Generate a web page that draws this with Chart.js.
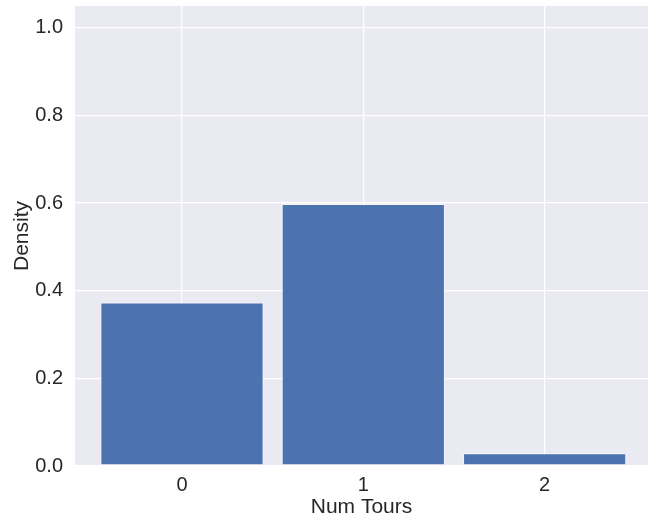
<!DOCTYPE html>
<html>
<head>
<meta charset="utf-8">
<script src="https://cdn.jsdelivr.net/npm/chart.js@4/dist/chart.umd.min.js"></script>
<style>
  html, body { margin: 0; padding: 0; background: #ffffff; overflow: hidden; }
  #wrap { width: 648px; height: 518px; }
</style>
</head>
<body>
<div id="wrap"><canvas id="c" width="648" height="518"></canvas></div>
<script>
// Number of tours per record and the share of records (density) for each count
const numTours = [0, 1, 2];
const density = [0.373, 0.598, 0.029];
const yTickValues = [0.0, 0.2, 0.4, 0.6, 0.8, 1.0];
const xTickValues = [0, 1, 2];

const TEXT = '#262626';
const FONT = "'Liberation Sans', Arial, sans-serif";

// Fill the plotting area with the seaborn-like grey before anything else is drawn
const plotBackground = {
  id: 'plotBackground',
  beforeDraw(chart) {
    const { ctx, chartArea: a } = chart;
    ctx.save();
    ctx.fillStyle = '#EAEAF2';
    ctx.fillRect(a.left, a.top, a.right - a.left, a.bottom - a.top);
    ctx.restore();
  }
};

new Chart(document.getElementById('c'), {
  type: 'bar',
  data: {
    datasets: [{
      label: 'Density',
      data: numTours.map((t, i) => ({ x: t, y: density[i] })),
      backgroundColor: '#4C72B0',
      borderColor: 'rgba(255,255,255,0.55)',
      borderWidth: 1,
      borderSkipped: false,
      categoryPercentage: 1.0,
      barPercentage: 0.9
    }]
  },
  options: {
    responsive: false,
    animation: false,
    layout: { padding: { top: 6, right: 0, bottom: 0, left: 0 } },
    plugins: {
      legend: { display: false },
      tooltip: { enabled: false }
    },
    scales: {
      x: {
        type: 'linear',
        offset: false,
        min: -0.59,
        max: 2.57,
        afterBuildTicks(scale) { scale.ticks = xTickValues.map(v => ({ value: v })); },
        afterFit(scale) {
          scale.height = 52;
          scale.paddingLeft = 0;
          scale.paddingRight = 0;
        },
        ticks: {
          color: TEXT,
          font: { family: FONT, size: 20 },
          padding: 7,
          callback: v => String(v)
        },
        grid: { color: '#ffffff', lineWidth: 1.3, drawTicks: false, offset: false },
        border: { display: false },
        title: {
          display: true,
          text: 'Num Tours',
          color: TEXT,
          font: { family: FONT, size: 21, lineHeight: 1.0 },
          padding: { top: 2, bottom: 0 }
        }
      },
      y: {
        min: 0,
        max: 1.05,
        afterBuildTicks(scale) { scale.ticks = yTickValues.map(v => ({ value: v })); },
        afterFit(scale) {
          scale.width = 75;
          scale.paddingTop = 0;
          scale.paddingBottom = 0;
        },
        ticks: {
          color: TEXT,
          font: { family: FONT, size: 20 },
          padding: 12,
          callback: v => Number(v).toFixed(1)
        },
        grid: { color: '#ffffff', lineWidth: 1.3, drawTicks: false },
        border: { display: false },
        title: {
          display: true,
          text: 'Density',
          color: TEXT,
          font: { family: FONT, size: 21 },
          padding: { top: 10, bottom: 0 }
        }
      }
    }
  },
  plugins: [plotBackground]
});
</script>
</body>
</html>
